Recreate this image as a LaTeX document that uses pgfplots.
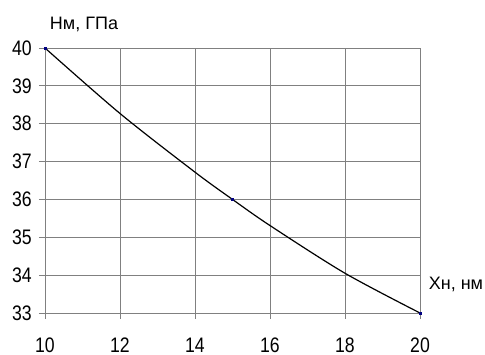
\documentclass[border=0pt]{standalone}
\usepackage{fontspec}
\setmainfont{Liberation Sans}
\newfontfamily\tickfont[FakeStretch=0.84]{Liberation Sans}
\usepackage{pgfplots}
\pgfplotsset{compat=1.18}
\definecolor{gridgray}{HTML}{808080}
\definecolor{mk}{HTML}{000080}
\begin{document}
\begin{tikzpicture}
\path[use as bounding box] (0,0) rectangle (485pt,355pt);
\begin{axis}[
  at={(45pt,42pt)}, anchor=south west,
  scale only axis, width=375pt, height=265pt,
  xmin=10, xmax=20, ymin=33, ymax=40,
  xtick={10,12,...,20}, ytick={33,34,...,40},
  grid=major,
  major grid style={gridgray, line width=0.8pt},
  axis line style={gridgray, line width=0.8pt},
  tick style={gridgray, line width=0.8pt},
  tick align=outside, major tick length=6pt,
  xtick pos=bottom, ytick pos=left,
  /pgf/number format/assume math mode=true,
  ticklabel style={font=\tickfont\fontsize{21}{24}\selectfont, inner sep=0pt},
  xticklabel style={anchor=north, yshift=-19pt},
  yticklabel style={anchor=east, xshift=-7pt},
  clip=false,
]
\addplot[black, line width=1.2pt, smooth, tension=0.5] coordinates {
  (10,40) (12,38.27) (14,36.72) (15,36.0) (16,35.31) (18,34.05) (20,33)
};
\addplot[only marks, mark=square*, mark size=1.1pt, mk] coordinates {
  (10,40) (15,36) (20,33)
};
\end{axis}
\node[font=\fontsize{18}{22}\selectfont, inner sep=0pt] at (84pt,331pt) {Нм, ГПа};
\node[font=\fontsize{18}{22}\selectfont, inner sep=0pt] at (456pt,71pt) {Хн, нм};
\end{tikzpicture}
\end{document}
